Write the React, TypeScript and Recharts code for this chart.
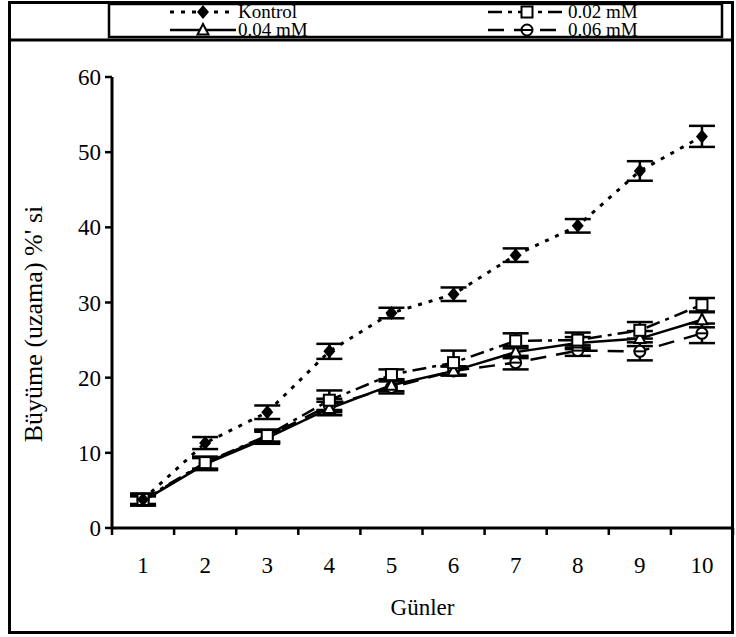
import React from 'react';
import { LineChart, Line, XAxis, YAxis, ErrorBar } from 'recharts';

// days on the x axis
const days = [1, 2, 3, 4, 5, 6, 7, 8, 9, 10];

// growth (%) per group
const kontrol = [3.8, 11.3, 15.4, 23.5, 28.6, 31.1, 36.3, 40.2, 47.5, 52.1];
const kontrolErr = [0.8, 0.8, 0.9, 1.0, 0.7, 0.9, 0.9, 0.9, 1.3, 1.4];
const mm002 = [3.8, 8.7, 12.3, 17.0, 20.4, 22.0, 24.9, 25.0, 26.3, 29.7];
const mm002Err = [0.6, 0.8, 0.8, 1.3, 0.7, 1.6, 1.0, 1.0, 1.1, 0.9];
const mm004 = [3.6, 8.5, 12.0, 15.9, 19.0, 20.9, 23.4, 24.6, 25.2, 27.7];
const mm004Err = [0.6, 0.8, 0.8, 0.9, 0.8, 0.6, 0.8, 0.8, 1.0, 1.0];
const mm006 = [3.7, 8.6, 12.2, 16.3, 18.7, 20.9, 22.0, 23.6, 23.5, 25.9];
const mm006Err = [0.6, 0.8, 0.8, 0.9, 0.8, 0.6, 0.9, 0.7, 1.2, 1.3];

const yTicks = [0, 10, 20, 30, 40, 50, 60];
const yLabel = "Büyüme (uzama) %' si";
const xLabel = 'Günler';

const FONT = "'Liberation Serif', 'Times New Roman', serif";

type Shape = 'diamond' | 'square' | 'triangle' | 'circle';

const series: { key: string; name: string; shape: Shape; dash?: string; width: number }[] = [
  { key: 'c', name: '0.06 mM', shape: 'circle', dash: '16 10', width: 2.5 },
  { key: 'b', name: '0.04 mM', shape: 'triangle', width: 2.5 },
  { key: 'a', name: '0.02 mM', shape: 'square', dash: '14 6 4 6', width: 2.5 },
  { key: 'k', name: 'Kontrol', shape: 'diamond', dash: '4 7', width: 3 },
];

const data = days.map((d, i) => ({
  day: d,
  k: kontrol[i],
  kErr: kontrolErr[i],
  a: mm002[i],
  aErr: mm002Err[i],
  b: mm004[i],
  bErr: mm004Err[i],
  c: mm006[i],
  cErr: mm006Err[i],
}));

// tick at every category edge, label at every category centre
const xTicks = [...days.map((d) => d - 0.5), 10.5, ...days].sort((p, q) => p - q);

const Marker = ({ shape, cx, cy }: { shape: Shape; cx: number; cy: number }) => {
  if (shape === 'diamond')
    return <polygon points={`${cx},${cy - 7} ${cx + 6},${cy} ${cx},${cy + 7} ${cx - 6},${cy}`} fill="#000" />;
  if (shape === 'square')
    return <rect x={cx - 5.5} y={cy - 5.5} width={11} height={11} fill="#fff" stroke="#000" strokeWidth={2} />;
  if (shape === 'triangle')
    return <polygon points={`${cx},${cy - 6} ${cx + 5.5},${cy + 4.5} ${cx - 5.5},${cy + 4.5}`} fill="#fff" stroke="#000" strokeWidth={2} />;
  return (
    <g>
      <circle cx={cx} cy={cy} r={5.5} fill="#fff" stroke="#000" strokeWidth={2} />
      <line x1={cx - 5.5} x2={cx + 5.5} y1={cy} y2={cy} stroke="#000" strokeWidth={2} />
    </g>
  );
};

const XTick = (props: any) => {
  const { x, y, payload } = props;
  const v = payload.value;
  if (Number.isInteger(v)) {
    return (
      <text x={x} y={y + 45} textAnchor="middle" fontFamily={FONT} fontSize={23} fill="#000">
        {v}
      </text>
    );
  }
  return <line x1={x} x2={x} y1={y} y2={y + 7} stroke="#000" strokeWidth={2.5} />;
};

const LegendItem = ({ s, x, y, len }: { s: (typeof series)[number]; x: number; y: number; len: number }) => (
  <g>
    <line x1={x} x2={x + len} y1={y} y2={y} stroke="#000" strokeWidth={s.width} strokeDasharray={s.dash} />
    <Marker shape={s.shape} cx={x + len / 2} cy={y} />
    <text x={x + len + 2} y={y + 6} fontFamily={FONT} fontSize={19} fill="#000">
      {s.name}
    </text>
  </g>
);

export default function App() {
  const byName = (n: string) => series.find((s) => s.name === n)!;
  return (
    <div style={{ position: 'absolute', left: 0, top: 0, width: 736, height: 637, background: '#fff' }}>
      <LineChart width={736} height={637} data={data} margin={{ top: 77, right: 3, bottom: 29, left: 52 }}>
        <XAxis
          dataKey="day"
          type="number"
          domain={[0.5, 10.5]}
          ticks={xTicks}
          interval={0}
          tickSize={0}
          tickMargin={0}
          height={80}
          tick={<XTick />}
          axisLine={{ stroke: '#000', strokeWidth: 3 }}
          tickLine={false}
          label={{ value: xLabel, position: 'insideBottom', offset: -7, fontFamily: FONT, fontSize: 23, fill: '#000' }}
        />
        <YAxis
          domain={[0, 60]}
          ticks={yTicks}
          interval={0}
          width={60}
          tickSize={7}
          tickMargin={4}
          tick={{ fontFamily: FONT, fontSize: 23, fill: '#000' }}
          axisLine={{ stroke: '#000', strokeWidth: 3 }}
          tickLine={{ stroke: '#000', strokeWidth: 2.5 }}
        />
        {series.map((s) => (
          <Line
            key={s.key}
            dataKey={s.key}
            name={s.name}
            stroke="#000"
            strokeWidth={s.width}
            strokeDasharray={s.dash}
            isAnimationActive={false}
            dot={(p: any) => <Marker key={`${s.key}-${p.index}`} shape={s.shape} cx={p.cx} cy={p.cy} />}
          >
            <ErrorBar dataKey={`${s.key}Err`} width={13} strokeWidth={2.5} stroke="#000" direction="y" />
          </Line>
        ))}
      </LineChart>
      <svg
        width={736}
        height={637}
        style={{ position: 'absolute', left: 0, top: 0, pointerEvents: 'none' }}
      >
        <rect x={9.5} y={2.5} width={723} height={630} fill="none" stroke="#000" strokeWidth={3} />
        <line x1={8} x2={734} y1={40} y2={40} stroke="#000" strokeWidth={3} />
        <rect x={109} y={4} width={613} height={33} fill="none" stroke="#000" strokeWidth={2.5} />
        <LegendItem s={byName('Kontrol')} x={170} y={12} len={66} />
        <LegendItem s={byName('0.02 mM')} x={488} y={12} len={78} />
        <LegendItem s={byName('0.04 mM')} x={170} y={30} len={66} />
        <LegendItem s={byName('0.06 mM')} x={488} y={30} len={78} />
        <text
          transform="translate(42, 324) rotate(-90)"
          textAnchor="middle"
          fontFamily={FONT}
          fontSize={26}
          fill="#000"
        >
          {yLabel}
        </text>
      </svg>
    </div>
  );
}
